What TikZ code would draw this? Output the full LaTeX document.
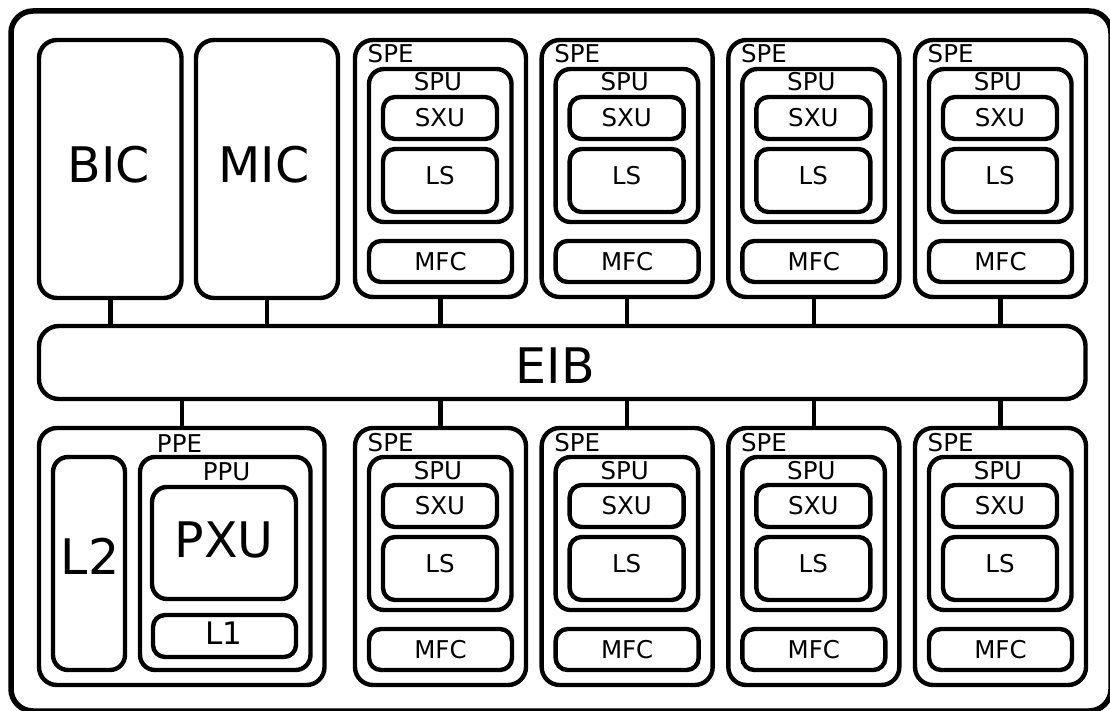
\documentclass[tikz,border=0pt]{standalone}
\usepackage{fontspec}
\setmainfont{DejaVu Sans}
\tikzset{
  box/.style={draw, line width=4.4pt, inner sep=0pt, outer sep=0pt, anchor=north west, rounded corners=18pt},
  ubox/.style={box, rounded corners=15pt},
  sbox/.style={box, rounded corners=12pt, font=\fontsize{24.5}{28}\selectfont},
  small/.style={font=\fontsize{24.5}{28}\selectfont, inner sep=0pt},
  big/.style={font=\fontsize{49}{56}\selectfont, inner sep=0pt},
  conn/.style={line width=4.5pt},
}
\newcommand{\cellspe}[3]{%
  \node[box, minimum width=171pt, minimum height=257pt] (#1) at (#2,#3) {};
  \node[small, anchor=base west] (#1lbl) at (#2+12.5,#3+23) {SPE};
  \node[ubox, minimum width=142.5pt, minimum height=153pt] (#1spu) at (#2+14,#3+29) {};
  \node[small, anchor=base] (#1spulbl) at (#2+83,#3+51) {SPU};
  \node[sbox, minimum width=114pt, minimum height=42pt] (#1sxu) at (#2+28,#3+57) {SXU};
  \node[sbox, minimum width=114pt, minimum height=63pt,
        label={[small, yshift=4.5pt]center:LS}] (#1ls) at (#2+28,#3+109) {};
  \node[sbox, minimum width=143pt, minimum height=41pt] (#1mfc) at (#2+14,#3+201) {MFC};
}
\begin{document}
\begin{tikzpicture}[x=1pt,y=-1pt]
\useasboundingbox (0,0) rectangle (1110,711);
% chip frame
\node[box, line width=5.5pt, rounded corners=22pt, minimum width=1100pt, minimum height=700pt] (chip) at (11,11) {};
% BIC, MIC
\node[box, minimum width=142.5pt, minimum height=258pt] (BIC) at (39,40) {};
\node[big] (BICt) at (109,165) {BIC};
\node[box, minimum width=142pt, minimum height=258pt] (MIC) at (196,40) {};
\node[big] (MICt) at (264,165) {MIC};
% EIB
\node[box, rounded corners=20pt, minimum width=1046.5pt, minimum height=73pt] (EIB) at (39,326) {};
\node[big] (EIBt) at (555.5,365.5) {EIB};
% SPEs
\cellspe{speA}{355}{40}
\cellspe{speB}{541.67}{40}
\cellspe{speC}{728.33}{40}
\cellspe{speD}{915}{40}
\cellspe{speE}{355}{428}
\cellspe{speF}{541.67}{428}
\cellspe{speG}{728.33}{428}
\cellspe{speH}{915}{428}
% PPE
\node[box, minimum width=285.5pt, minimum height=257pt] (PPE) at (39,428) {};
\node[small, anchor=base] (PPElbl) at (179.5,452) {PPE};
\node[ubox, minimum width=72pt, minimum height=213pt] (L2) at (53,457) {};
\node[big] (L2t) at (90,556.5) {L2};
\node[ubox, minimum width=170.5pt, minimum height=213pt] (PPU) at (140,457) {};
\node[small, anchor=base] (PPUlbl) at (226.5,480) {PPU};
\node[ubox, minimum width=144pt, minimum height=112pt] (PXU) at (152,487) {};
\node[big] (PXUt) at (224,539.5) {PXU};
\node[sbox, minimum width=143pt, minimum height=42pt] (L1) at (153,615) {};
\node[inner sep=0pt, font=\fontsize{31}{36}\selectfont] (L1t) at (223.5,633.5) {L1};
% connectors
\draw[conn] (BIC.south) -- (BIC.south |- EIB.north);
\draw[conn] (MIC.south) -- (MIC.south |- EIB.north);
\foreach \s in {speA,speB,speC,speD}
  \draw[conn] (\s.south) -- (\s.south |- EIB.north);
\foreach \s in {speE,speF,speG,speH}
  \draw[conn] (\s.north) -- (\s.north |- EIB.south);
\draw[conn] (PPE.north) -- (PPE.north |- EIB.south);
\end{tikzpicture}
\end{document}
